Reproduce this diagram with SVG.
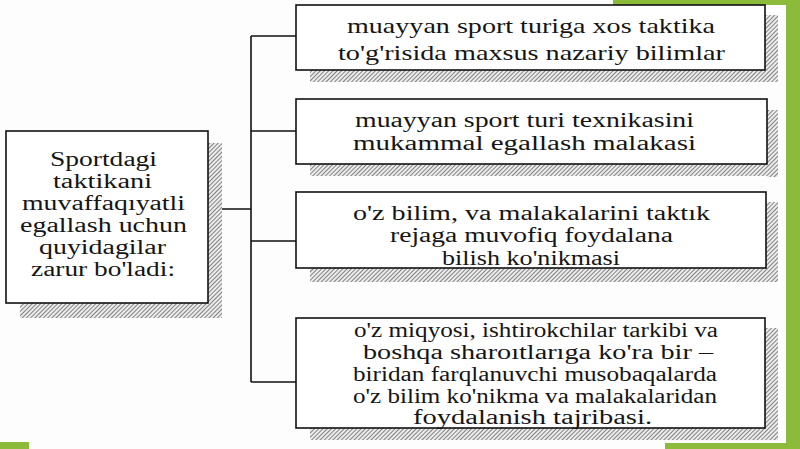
<svg xmlns="http://www.w3.org/2000/svg" width="800" height="449" viewBox="0 0 800 449">
<defs>
<pattern id="hatch" width="3" height="3" patternUnits="userSpaceOnUse" patternTransform="rotate(45)">
<rect width="3" height="3" fill="#ececec"/>
<line x1="0" y1="0" x2="0" y2="3" stroke="#3a3a3a" stroke-width="1.2"/>
</pattern>
<style>
.box{fill:#fff;stroke:#111;stroke-width:1.6}
.sh{fill:url(#hatch)}
.t{font-family:'Liberation Serif','Times New Roman',serif;font-size:20px;fill:#151515}
.c{fill:none;stroke:#111;stroke-width:1.6}
.g{fill:#8cbb3c}
</style>
</defs>
<rect width="800" height="449" fill="#fdfdfd"/>
<g id="decor">
<rect class="g" x="786" y="0" width="14" height="449"/>
<rect class="g" x="613" y="0" width="187" height="5"/>
<rect class="g" x="665" y="443" width="135" height="6"/>
<rect class="g" x="0" y="442" width="29" height="7"/>
</g>
<g id="connectors">
<path class="c" d="M208 209 H251 M251 36 V382 M251 36 H296 M251 131 H296 M251 241 H296 M251 382 H296"/>
</g>
<g id="n0">
<rect class="sh" x="208" y="143" width="14" height="175"/>
<rect class="sh" x="20" y="303" width="202" height="15"/>
<rect class="box" x="6" y="131" width="202" height="172"/>
<text class="t" x="50" y="166" textLength="107" lengthAdjust="spacingAndGlyphs">Sportdagi</text>
<text class="t" x="53" y="188" textLength="99" lengthAdjust="spacingAndGlyphs">taktikani</text>
<text class="t" x="22" y="210" textLength="163" lengthAdjust="spacingAndGlyphs">muvaffaqıyatli</text>
<text class="t" x="20" y="232" textLength="167" lengthAdjust="spacingAndGlyphs">egallash uchun</text>
<text class="t" x="39" y="254" textLength="127" lengthAdjust="spacingAndGlyphs">quyidagilar</text>
<text class="t" x="31" y="276" textLength="144" lengthAdjust="spacingAndGlyphs">zarur bo'ladi:</text>
</g>
<g id="n1">
<rect class="sh" x="765" y="15" width="13" height="67"/>
<rect class="sh" x="310" y="70" width="468" height="12"/>
<rect class="box" x="296" y="5" width="469" height="65"/>
<text class="t" x="347" y="33" textLength="368" lengthAdjust="spacingAndGlyphs" style="font-size:21px">muayyan sport turiga xos taktika</text>
<text class="t" x="338" y="60" textLength="387" lengthAdjust="spacingAndGlyphs" style="font-size:21px">to'g'risida maxsus nazariy bilimlar</text>
</g>
<g id="n2">
<rect class="sh" x="767" y="110" width="11" height="67"/>
<rect class="sh" x="310" y="164" width="468" height="12"/>
<rect class="box" x="296" y="99" width="471" height="65"/>
<text class="t" x="355" y="127" textLength="339" lengthAdjust="spacingAndGlyphs">muayyan sport turi texnikasini</text>
<text class="t" x="353" y="150" textLength="343" lengthAdjust="spacingAndGlyphs">mukammal egallash malakasi</text>
</g>
<g id="n3">
<rect class="sh" x="766" y="202" width="12" height="80"/>
<rect class="sh" x="310" y="268" width="468" height="14"/>
<rect class="box" x="296" y="192" width="470" height="76"/>
<text class="t" x="353" y="220" textLength="357" lengthAdjust="spacingAndGlyphs">o'z bilim, va malakalarini taktık</text>
<text class="t" x="390" y="242" textLength="283" lengthAdjust="spacingAndGlyphs">rejaga muvofiq foydalana</text>
<text class="t" x="442" y="265" textLength="178" lengthAdjust="spacingAndGlyphs">bilish ko'nikmasi</text>
</g>
<g id="n4">
<rect class="sh" x="765" y="328" width="13" height="112"/>
<rect class="sh" x="310" y="428" width="468" height="12"/>
<rect class="box" x="296" y="318" width="469" height="110"/>
<text class="t" x="354" y="337" textLength="364" lengthAdjust="spacingAndGlyphs">o'z miqyosi, ishtirokchilar tarkibi va</text>
<text class="t" x="363" y="359" textLength="350" lengthAdjust="spacingAndGlyphs">boshqa sharoıtlarıga ko'ra bir –</text>
<text class="t" x="353" y="381" textLength="364" lengthAdjust="spacingAndGlyphs">biridan farqlanuvchi musobaqalarda</text>
<text class="t" x="353" y="403" textLength="364" lengthAdjust="spacingAndGlyphs">o'z bilim ko'nikma va malakalaridan</text>
<text class="t" x="413" y="424" textLength="239" lengthAdjust="spacingAndGlyphs">foydalanish tajribasi.</text>
</g>
</svg>
